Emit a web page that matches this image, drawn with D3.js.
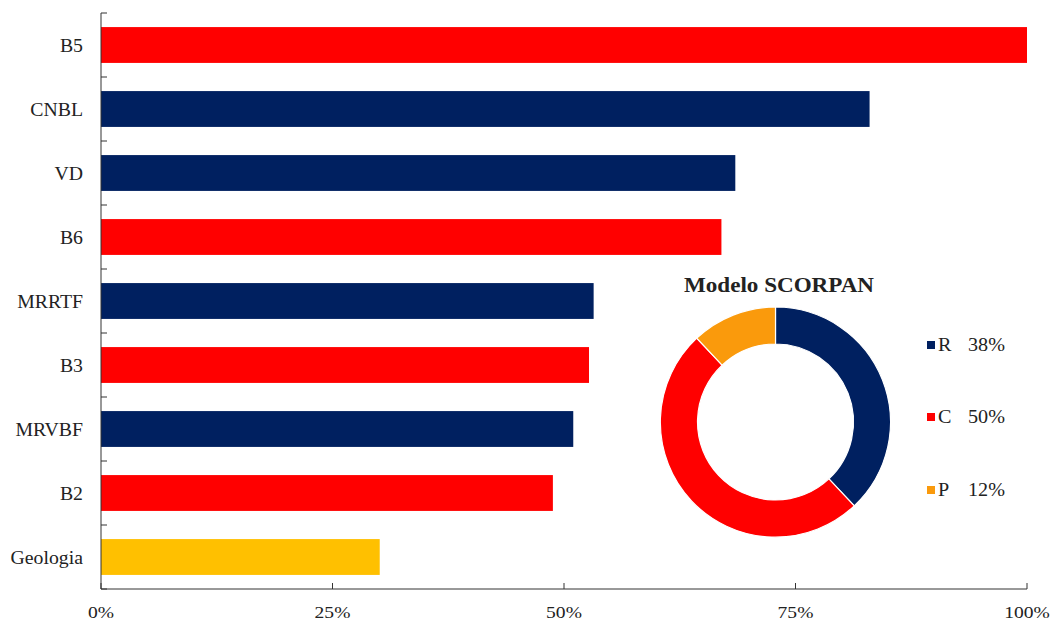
<!DOCTYPE html>
<html>
<head>
<meta charset="utf-8">
<script src="https://cdn.jsdelivr.net/npm/d3@7/dist/d3.min.js"></script>
<style>
  html, body { margin: 0; padding: 0; background: #fff; }
  svg { display: block; }
  text { font-family: "Liberation Serif", "Times New Roman", "DejaVu Serif", serif; fill: #222; }
</style>
</head>
<body>
<svg id="chart" width="1054" height="621"></svg>
<script>
// Variable importance (relative, %)
const categories = ["B5", "CNBL", "VD", "B6", "MRRTF", "B3", "MRVBF", "B2", "Geologia"];
const importance = [100, 83.0, 68.5, 67.0, 53.2, 52.7, 51.0, 48.8, 30.1];
const factor = ["C", "R", "R", "C", "R", "C", "R", "C", "P"];

// SCORPAN factor shares
const pieLabels = ["R", "C", "P"];
const pieValues = [38, 50, 12];
const xTicks = [0, 25, 50, 75, 100];

const barColor = { R: "#002060", C: "#FF0000", P: "#FFC000" };
const pieColor = { R: "#002060", C: "#FF0000", P: "#FA9A0C" };

const svg = d3.select("#chart");
const plotLeft = 101, plotRight = 1027, plotTop = 13, plotBottom = 589;
const fontFamily = "'Liberation Serif', 'Times New Roman', serif";

// Places a text node at (px, py) with a slight horizontal stretch
const placeText = (sel, px, py, sx) =>
  sel.attr("x", 0).attr("y", 0)
     .attr("font-family", fontFamily)
     .attr("transform", (d, i) => `translate(${px(d, i)},${py(d, i)}) scale(${sx},1)`);

const x = d3.scaleLinear().domain([0, 100]).range([plotLeft, plotRight]);
const y = d3.scaleBand().domain(categories).range([plotTop, plotBottom]).paddingInner(0.44).paddingOuter(0.22);

// Bars
svg.append("g").selectAll("rect")
  .data(categories)
  .join("rect")
  .attr("x", x(0))
  .attr("y", d => y(d))
  .attr("width", (d, i) => x(importance[i]) - x(0))
  .attr("height", y.bandwidth())
  .attr("fill", (d, i) => barColor[factor[i]]);

// Category axis: line, inward ticks at band boundaries
const yAxis = svg.append("g");
yAxis.append("line")
  .attr("x1", plotLeft).attr("x2", plotLeft)
  .attr("y1", plotTop).attr("y2", plotBottom)
  .attr("stroke", "#333").attr("stroke-width", 1);
const boundaries = d3.range(categories.length + 1).map(i => plotTop + i * y.step());
yAxis.selectAll("line.tick")
  .data(boundaries)
  .join("line")
  .attr("class", "tick")
  .attr("x1", plotLeft).attr("x2", plotLeft + 6)
  .attr("y1", d => d).attr("y2", d => d)
  .attr("stroke", "#333");
yAxis.selectAll("text")
  .data(categories)
  .join("text")
  .call(placeText, () => 83, d => y(d) + y.bandwidth() / 2, 1.04)
  .attr("dy", "0.35em")
  .attr("text-anchor", "end")
  .attr("font-size", 19)
  .text(d => d);

// Value axis
const xAxis = svg.append("g");
xAxis.append("line")
  .attr("x1", plotLeft).attr("x2", plotRight)
  .attr("y1", plotBottom).attr("y2", plotBottom)
  .attr("stroke", "#333");
xAxis.selectAll("line.tick")
  .data(xTicks)
  .join("line")
  .attr("class", "tick")
  .attr("x1", d => x(d)).attr("x2", d => x(d))
  .attr("y1", plotBottom).attr("y2", plotBottom - 6)
  .attr("stroke", "#333");
xAxis.selectAll("text")
  .data(xTicks)
  .join("text")
  .call(placeText, d => x(d), () => 618, 1.15)
  .attr("text-anchor", "middle")
  .attr("font-size", 17)
  .text(d => d + "%");

// Donut of SCORPAN factors
const cx = 775.5, cy = 422;
const pie = d3.pie().sort(null).value(d => d)(pieValues);
const arc = d3.arc().innerRadius(78).outerRadius(115);
const donut = svg.append("g").attr("transform", `translate(${cx},${cy})`);
donut.selectAll("path")
  .data(pie)
  .join("path")
  .attr("d", arc)
  .attr("fill", (d, i) => pieColor[pieLabels[i]])
  .attr("stroke", "#fff")
  .attr("stroke-width", 1.2);

svg.append("text")
  .datum("Modelo SCORPAN")
  .call(placeText, () => 779, () => 292, 1.1)
  .attr("text-anchor", "middle")
  .attr("font-size", 21)
  .attr("font-weight", "bold")
  .text(d => d);

// Legend
const legendY = [345, 417, 490];
const legend = svg.append("g");
legend.selectAll("rect")
  .data(pieLabels)
  .join("rect")
  .attr("x", 927).attr("y", (d, i) => legendY[i] - 4)
  .attr("width", 8).attr("height", 8)
  .attr("fill", d => pieColor[d]);
legend.selectAll("text.lab")
  .data(pieLabels)
  .join("text")
  .attr("class", "lab")
  .call(placeText, () => 938, (d, i) => legendY[i], 1.12)
  .attr("dy", "0.35em")
  .attr("font-size", 18)
  .text(d => d);
legend.selectAll("text.pct")
  .data(pieValues)
  .join("text")
  .attr("class", "pct")
  .call(placeText, () => 968, (d, i) => legendY[i], 1.12)
  .attr("dy", "0.35em")
  .attr("font-size", 18)
  .text(d => d + "%");
</script>
</body>
</html>
